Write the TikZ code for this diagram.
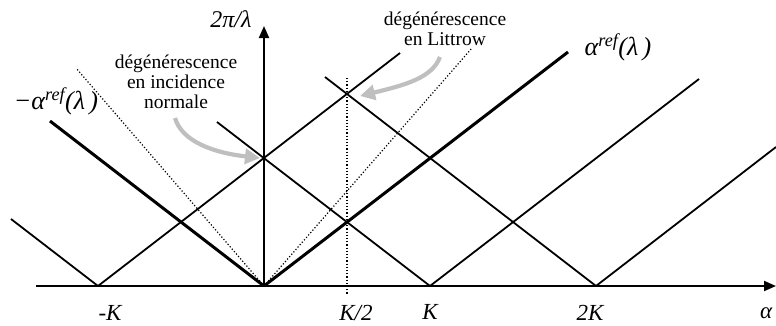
\documentclass[tikz,border=0pt]{standalone}
\usepackage{fontspec}
\setmainfont{Liberation Serif}
\usetikzlibrary{arrows.meta}
\begin{document}
\begin{tikzpicture}[x=1pt,y=-1pt,
  thinline/.style={line width=1.8pt},
  thickline/.style={line width=3pt},
  dotline/.style={dotted,line width=1.2pt},
  axisline/.style={line width=2pt,-{Triangle[length=12pt,width=10pt]}},
  grayarrow/.style={draw=black!25,line width=4.2pt,-{Triangle[length=15pt,width=15pt]}},
  lbl/.style={font=\fontsize{24}{26}\selectfont\itshape,inner sep=0pt},
  axlbl/.style={font=\fontsize{23}{25}\selectfont\itshape,inner sep=0pt,anchor=base},
  biglbl/.style={font=\fontsize{26}{28}\selectfont\itshape,inner sep=0pt},
  note/.style={font=\fontsize{19.5}{20}\selectfont,align=center,inner sep=0pt}]
\useasboundingbox (0,0) rectangle (776,325);
% base points
\coordinate (O) at (264,286);
\coordinate (mK) at (98,286);
\coordinate (pK) at (430,286);
\coordinate (p2K) at (596,286);
% line ends
\coordinate (e1) at (11,219);
\coordinate (e2) at (400,53);
\coordinate (e3) at (50,121);
\coordinate (e4) at (568,52);
\coordinate (e5) at (217,122);
\coordinate (e6) at (699,79);
\coordinate (e7) at (325,77);
\coordinate (e8) at (776,147);
\coordinate (d1) at (76,68);
\coordinate (d2) at (472,48);
\coordinate (v1) at (347,78);
\coordinate (v2) at (347,294);
\coordinate (xa0) at (36,286);
\coordinate (xa1) at (776,286);
\coordinate (ya1) at (264,26);
% dotted
\draw[dotline] (O) -- (d1);
\draw[dotline] (O) -- (d2);
\draw[dotline] (v1) -- (v2);
% thin lines
\draw[thinline] (mK) -- (e1);
\draw[thinline] (mK) -- (e2);
\draw[thinline] (pK) -- (e5);
\draw[thinline] (pK) -- (e6);
\draw[thinline] (p2K) -- (e7);
\draw[thinline] (p2K) -- (e8);
% thick lines
\draw[thickline] (O) -- (e3);
\draw[thickline] (O) -- (e4);
% axes
\draw[axisline] (xa0) -- (xa1);
\draw[axisline] (O) -- (ya1);
% labels
\node[lbl] (ylab) at (231,19) {2π/λ};
\node[biglbl] (aref) at (618,47) {α\textsuperscript{ref}(λ\,)};
\node[biglbl] (maref) at (56,101) {−α\textsuperscript{ref}(λ\,)};
\node[axlbl] (lmK) at (110,320) {-K};
\node[axlbl] (lK2) at (356,320) {K/2};
\node[axlbl] (lK) at (430,319) {K};
\node[axlbl] (l2K) at (590,320) {2K};
\node[axlbl,anchor=base west] (lal) at (760,318) {α};
% notes
\node[note] (nn) at (176,82) {dégénérescence\\en incidence\\normale};
\node[note] (nl) at (445,29) {dégénérescence\\en Littrow};
% gray arrows
\coordinate (gn0) at (175,118);
\coordinate (gn1) at (260,158);
\coordinate (gl0) at (440,57);
\coordinate (gl1) at (360,96);
\draw[grayarrow] (gn0) .. controls (182,142) and (215,153) .. (gn1);
\draw[grayarrow] (gl0) .. controls (432,78) and (405,85) .. (gl1);
\end{tikzpicture}
\end{document}
